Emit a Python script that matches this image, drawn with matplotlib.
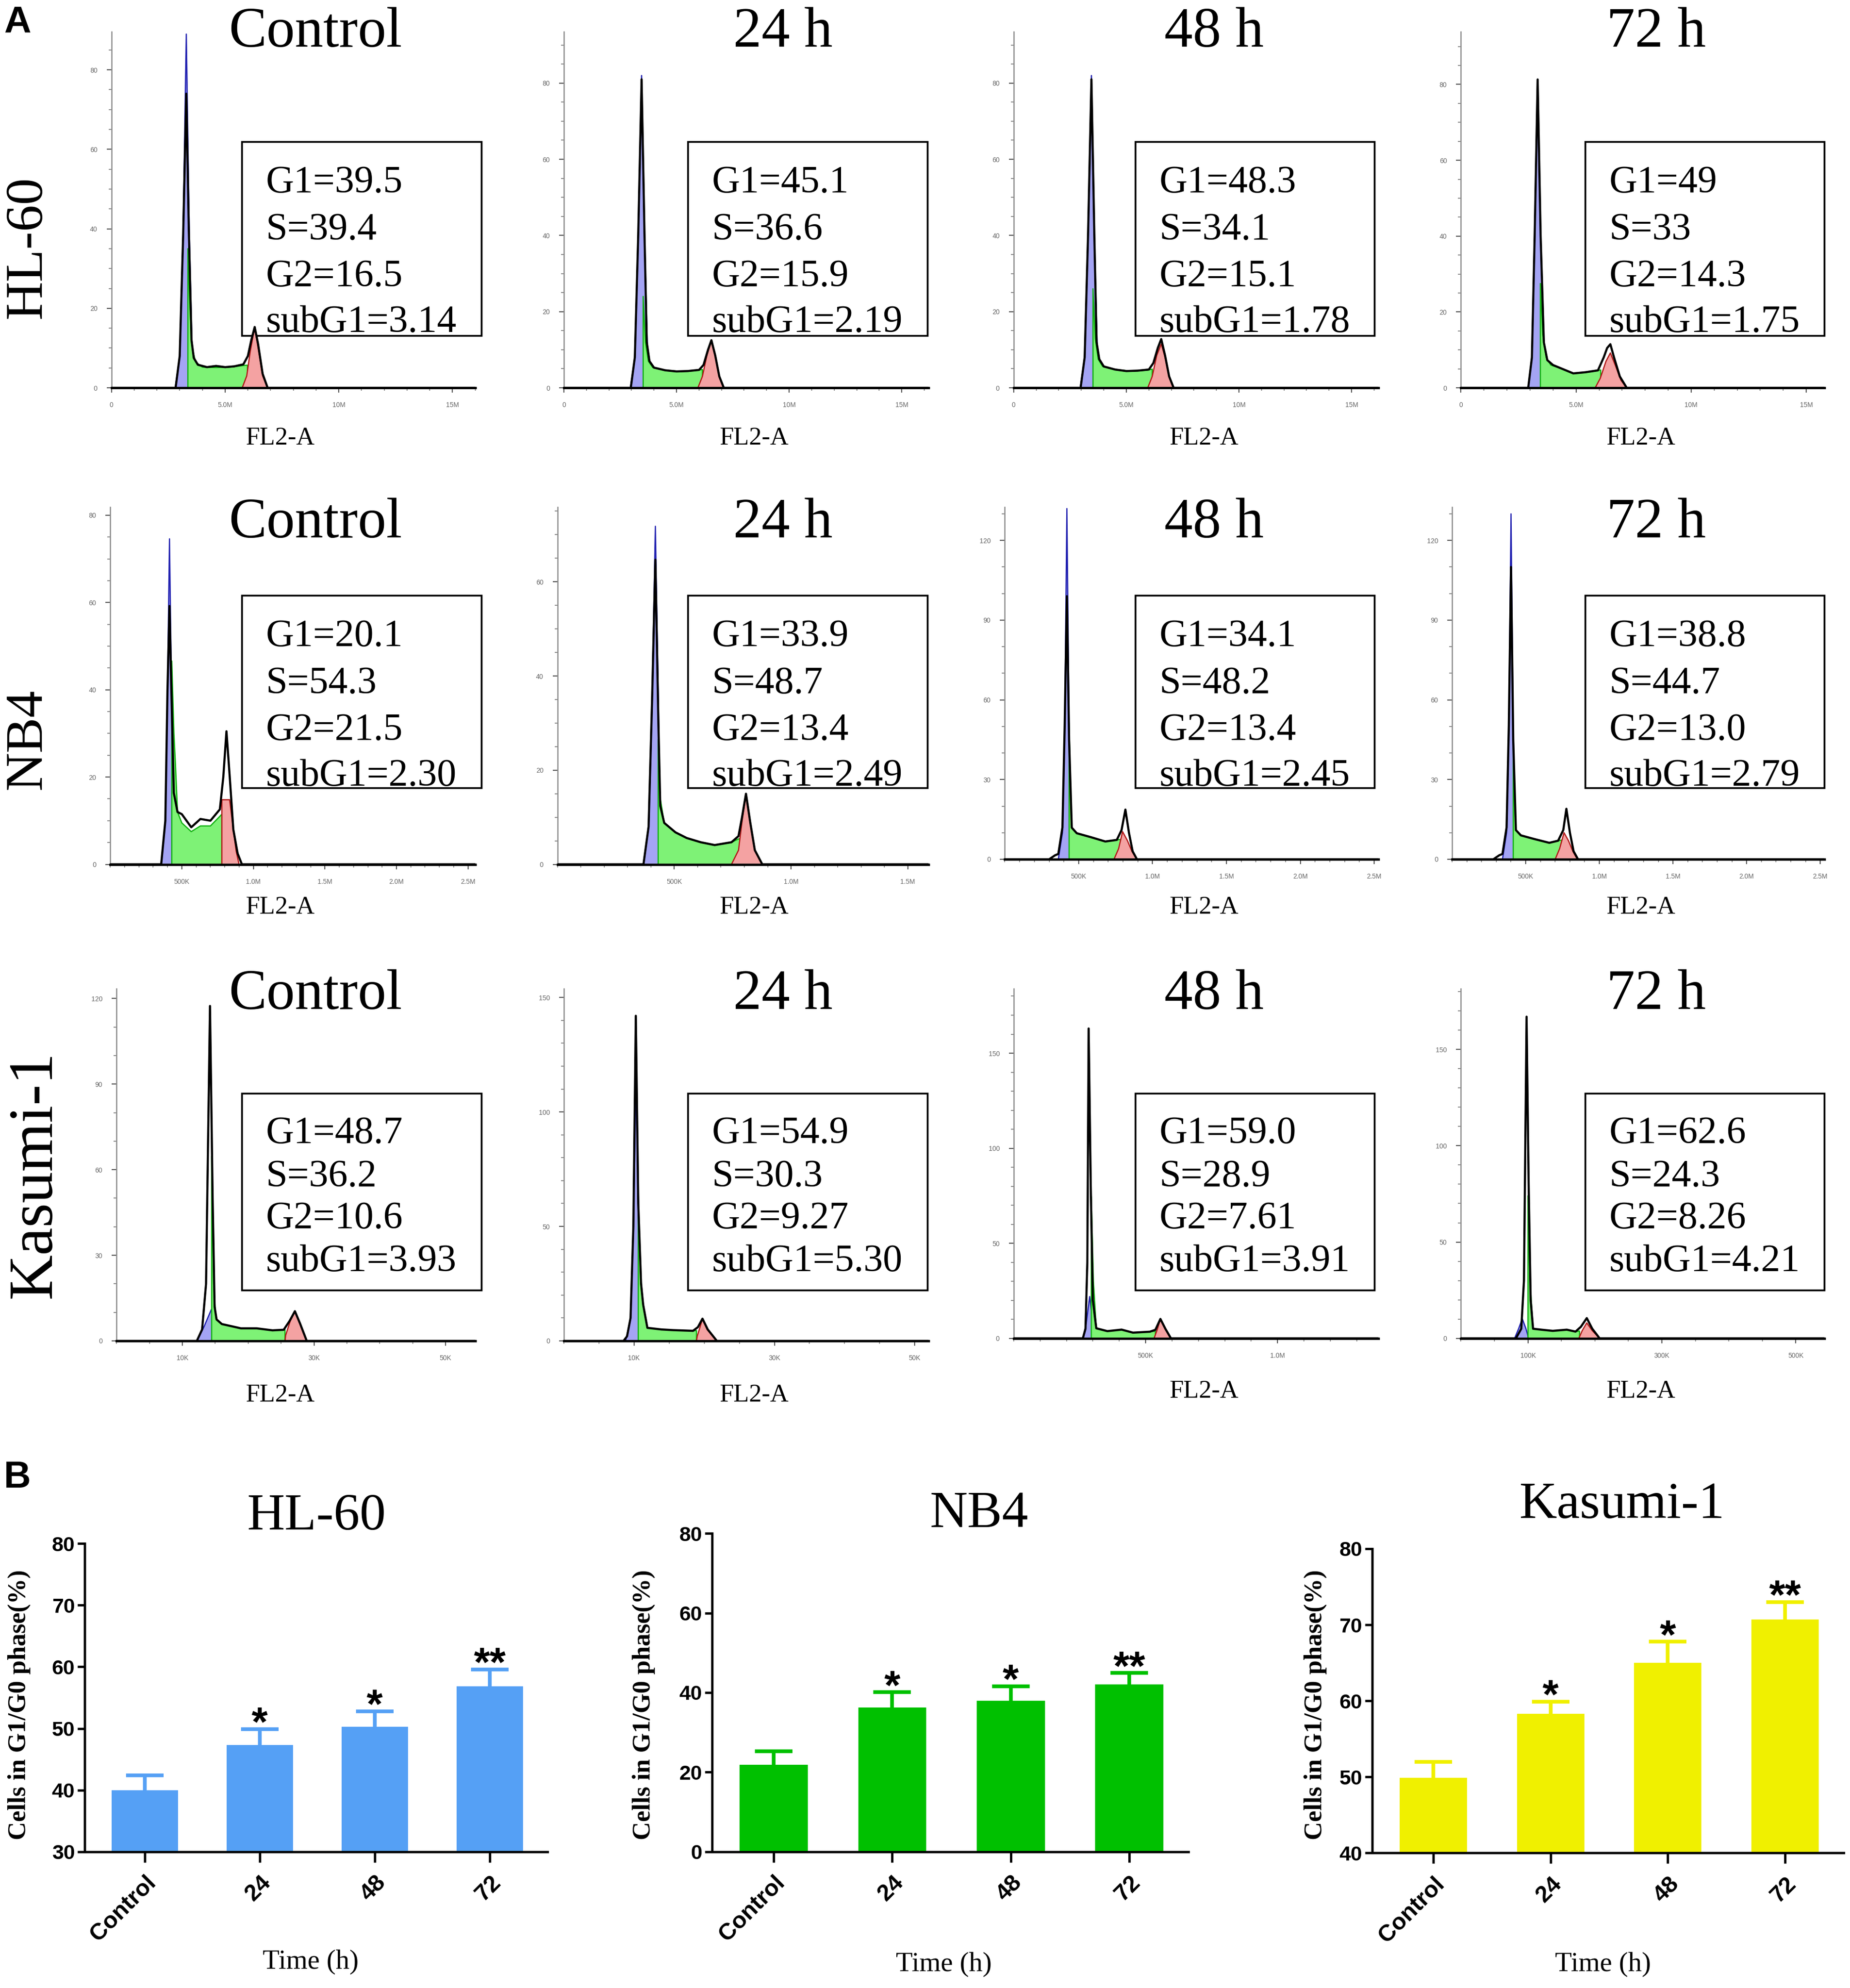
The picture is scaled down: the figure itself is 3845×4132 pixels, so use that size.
import matplotlib
matplotlib.use("Agg")
import matplotlib.pyplot as plt
import numpy as np
from matplotlib.patches import Rectangle
from matplotlib.ticker import MultipleLocator

SERIF = "Liberation Serif"
SANS = "Liberation Sans"

# ---------------- data: cell-cycle histograms (x in panel units, y = count) ----------------
CELL_LINES = ["HL-60", "NB4", "Kasumi-1"]
TIMES = ["Control", "24 h", "48 h", "72 h"]

# HL-60, x in millions
H60_C_G1 = [(2.80, 0), (3.00, 8), (3.15, 40), (3.29, 89), (3.42, 40), (3.55, 8), (3.70, 0)]
H60_C_S = [(3.36, 0), (3.36, 35), (3.45, 20), (3.55, 10), (3.70, 6.5), (4.0, 5.2), (4.6, 5.1), (5.2, 5.2), (5.8, 5.6), (5.98, 5.7), (5.98, 0)]
H60_C_G2 = [(5.75, 0), (5.95, 3), (6.10, 9), (6.30, 15.3), (6.45, 10), (6.65, 3), (6.87, 0)]
H60_C_DATA = [(0, 0), (2.82, 0), (3.00, 8), (3.15, 38), (3.29, 74), (3.40, 40), (3.52, 12), (3.62, 7.5), (3.8, 5.8), (4.2, 5.2),
              (4.6, 5.5), (5.0, 5.2), (5.4, 5.4), (5.8, 5.9), (6.0, 8), (6.15, 12), (6.30, 15.3), (6.45, 11), (6.65, 3.5), (6.87, 0), (16.0, 0)]

H60_24_G1 = [(2.95, 0), (3.15, 8), (3.30, 40), (3.45, 82), (3.58, 40), (3.72, 8), (3.88, 0)]
H60_24_S = [(3.52, 0), (3.52, 24), (3.62, 12), (3.75, 7), (3.95, 5.3), (4.5, 4.6), (5.2, 4.3), (5.9, 4.6), (6.15, 4.8), (6.15, 0)]
H60_24_G2 = [(5.95, 0), (6.15, 3), (6.35, 8.5), (6.55, 12.5), (6.72, 8.5), (6.90, 3), (7.10, 0)]
H60_24_DATA = [(0, 0), (2.97, 0), (3.15, 8), (3.30, 40), (3.45, 81), (3.58, 40), (3.68, 12), (3.8, 7), (4.0, 5.3), (4.5, 4.6),
               (5.0, 4.3), (5.5, 4.4), (6.0, 4.7), (6.2, 6), (6.4, 10), (6.55, 12.5), (6.72, 8.5), (6.9, 3), (7.1, 0), (16.2, 0)]

H60_48_G1 = [(2.95, 0), (3.15, 8), (3.30, 40), (3.45, 82), (3.58, 40), (3.72, 8), (3.88, 0)]
H60_48_S = [(3.52, 0), (3.52, 26), (3.62, 13), (3.75, 7.5), (3.95, 5.6), (4.5, 4.8), (5.2, 4.4), (5.9, 4.6), (6.15, 4.9), (6.15, 0)]
H60_48_G2 = [(5.95, 0), (6.15, 3), (6.35, 8.5), (6.55, 11.5), (6.72, 8), (6.90, 3), (7.10, 0)]
H60_48_DATA = [(0, 0), (2.97, 0), (3.15, 8), (3.30, 40), (3.45, 81), (3.58, 40), (3.68, 12), (3.8, 7.5), (4.0, 5.6), (4.5, 4.8),
               (5.0, 4.4), (5.5, 4.5), (6.0, 4.8), (6.2, 6.5), (6.4, 10.5), (6.55, 12.8), (6.72, 8.5), (6.9, 3), (7.1, 0), (16.2, 0)]

H60_72_G1 = [(2.92, 0), (3.08, 8), (3.20, 40), (3.33, 81), (3.46, 40), (3.60, 8), (3.81, 0)]
H60_72_S = [(3.45, 0), (3.45, 27.5), (3.55, 14), (3.70, 8), (3.90, 6), (4.4, 5), (4.9, 3.8), (5.5, 4.2), (5.95, 4.6), (6.07, 4.7), (6.07, 0)]
H60_72_G2 = [(5.83, 0), (6.05, 2.5), (6.30, 7), (6.49, 9.2), (6.70, 6), (6.95, 2), (7.20, 0)]
H60_72_DATA = [(0, 0), (2.92, 0), (3.08, 8), (3.20, 40), (3.33, 81.3), (3.46, 40), (3.60, 12), (3.75, 7.3), (4.0, 6), (4.4, 5),
               (4.88, 3.8), (5.4, 4.1), (5.95, 4.6), (6.2, 8), (6.35, 10.5), (6.49, 11.5), (6.65, 8), (6.9, 3), (7.2, 0), (15.8, 0)]

# NB4, x in millions
NB4_C_G1 = [(0.356, 0), (0.385, 10), (0.400, 40), (0.414, 74.6), (0.428, 40), (0.445, 10), (0.465, 0)]
NB4_C_S = [(0.43, 0), (0.43, 46.6), (0.445, 30), (0.456, 22.7), (0.47, 12), (0.50, 9.5), (0.566, 7.5), (0.63, 8.8), (0.70, 8.8), (0.766, 11), (0.78, 11.5), (0.78, 0)]
NB4_C_G2 = [(0.78, 0), (0.78, 14.8), (0.834, 14.8), (0.86, 8), (0.88, 3), (0.90, 0)]
NB4_C_DATA = [(0, 0), (0.356, 0), (0.385, 10), (0.400, 40), (0.414, 59.2), (0.426, 41.6), (0.444, 16.4), (0.47, 12), (0.50, 11.5),
              (0.566, 8.5), (0.60, 9.5), (0.63, 10.4), (0.70, 10), (0.766, 12.6), (0.79, 20), (0.812, 30.5), (0.835, 20), (0.86, 8),
              (0.89, 2.5), (0.92, 0), (2.55, 0)]

NB4_24_G1 = [(0.368, 0), (0.390, 8), (0.405, 35), (0.419, 71.8), (0.432, 35), (0.440, 8), (0.451, 0)]
NB4_24_S = [(0.431, 0), (0.431, 26.5), (0.44, 14), (0.457, 8.8), (0.505, 6.8), (0.553, 5.6), (0.613, 4.7), (0.673, 4.1), (0.745, 4.7), (0.78, 5.5), (0.78, 0)]
NB4_24_G2 = [(0.745, 0), (0.775, 3), (0.790, 9), (0.807, 15), (0.825, 9), (0.845, 3), (0.877, 0)]
NB4_24_DATA = [(0, 0), (0.368, 0), (0.390, 8), (0.405, 35), (0.419, 64.7), (0.432, 30), (0.44, 12.4), (0.457, 8.8), (0.505, 6.8),
               (0.553, 5.6), (0.613, 4.7), (0.673, 4.1), (0.745, 4.7), (0.775, 6), (0.79, 10), (0.807, 15), (0.825, 9), (0.845, 3),
               (0.877, 0), (1.59, 0)]

NB4_48_G1 = [(0.362, 0), (0.390, 10), (0.405, 50), (0.420, 132), (0.435, 50), (0.450, 10), (0.472, 0)]
NB4_48_S = [(0.435, 0), (0.435, 51.3), (0.445, 25), (0.453, 11.9), (0.487, 9.8), (0.584, 8.3), (0.68, 6.7), (0.758, 7.3), (0.787, 7.5), (0.787, 0)]
NB4_48_G2 = [(0.739, 0), (0.770, 4), (0.797, 10.4), (0.830, 7), (0.860, 3), (0.894, 0)]
NB4_48_DATA = [(0, 0), (0.30, 0), (0.34, 1.5), (0.362, 2), (0.39, 12), (0.405, 50), (0.42, 99), (0.435, 45), (0.453, 11.9),
               (0.487, 9.8), (0.584, 8.3), (0.68, 6.7), (0.758, 7.3), (0.79, 11), (0.816, 18.7), (0.84, 10), (0.865, 3), (0.894, 0), (2.53, 0)]

NB4_72_G1 = [(0.342, 0), (0.370, 10), (0.385, 50), (0.400, 130), (0.415, 50), (0.430, 10), (0.452, 0)]
NB4_72_S = [(0.415, 0), (0.415, 42), (0.425, 20), (0.433, 11), (0.467, 9), (0.56, 7.6), (0.66, 6.2), (0.72, 7), (0.75, 7.3), (0.75, 0)]
NB4_72_G2 = [(0.700, 0), (0.730, 4), (0.760, 10), (0.790, 7), (0.820, 3), (0.850, 0)]
NB4_72_DATA = [(0, 0), (0.28, 0), (0.32, 1.5), (0.342, 2), (0.37, 12), (0.385, 50), (0.40, 110), (0.415, 45), (0.433, 11),
               (0.467, 9), (0.56, 7.6), (0.66, 6.2), (0.72, 7), (0.755, 11), (0.776, 19), (0.80, 10), (0.825, 3), (0.855, 0), (2.53, 0)]

# Kasumi-1, x in thousands (48 h panel in millions)
KAS_C_G1 = [(12.2, 0), (13.3, 5), (14.4, 11), (15.2, 5), (15.9, 0)]
KAS_C_S = [(14.45, 0), (14.45, 64.7), (14.75, 20), (15.1, 7.9), (16.0, 5.9), (18.9, 4.4), (21.3, 4.4), (23.7, 3.7), (25.6, 3.9), (25.6, 0)]
KAS_C_G2 = [(25.6, 0), (25.7, 2), (26.4, 7), (27.1, 10.4), (27.9, 6), (28.9, 0)]
KAS_C_DATA = [(0, 0), (12.2, 0), (13.0, 4), (13.6, 20), (14.2, 117.4), (14.6, 50), (14.9, 12), (15.2, 7.5), (16.0, 5.9),
              (18.9, 4.4), (21.3, 4.4), (23.7, 3.7), (25.4, 3.9), (26.3, 7), (27.1, 10.4), (27.9, 6), (28.9, 0), (54.5, 0)]

KAS_24_G1 = [(8.8, 0), (9.5, 10), (9.9, 50), (10.3, 116), (10.7, 50), (11.1, 10), (11.6, 0)]
KAS_24_S = [(10.6, 0), (10.6, 60), (10.9, 30), (11.3, 15.8), (11.9, 5.7), (13.9, 5), (15.6, 4.7), (18.4, 4.4), (18.9, 4.5), (18.9, 0)]
KAS_24_G2 = [(18.9, 0), (19.0, 2), (19.4, 6), (19.75, 9.7), (20.4, 5), (21.8, 0)]
KAS_24_DATA = [(0, 0), (8.5, 0), (9.0, 2), (9.5, 10), (9.9, 50), (10.25, 142), (10.6, 60), (11.0, 25), (11.3, 15.8), (11.9, 5.7),
               (13.9, 5), (15.6, 4.7), (18.4, 4.4), (19.1, 6), (19.75, 9.7), (20.5, 5), (21.8, 0), (52.0, 0)]

KAS_48_G1 = [(0.262, 0), (0.275, 8), (0.288, 22), (0.300, 8), (0.310, 0)]
KAS_48_S = [(0.294, 0), (0.294, 74.6), (0.302, 30), (0.313, 5.3), (0.355, 3.8), (0.409, 4.6), (0.452, 3), (0.516, 3.5), (0.537, 3.8), (0.537, 0)]
KAS_48_G2 = [(0.532, 0), (0.545, 5), (0.556, 10.2), (0.575, 5), (0.596, 0)]
KAS_48_DATA = [(0, 0), (0.262, 0), (0.272, 5), (0.279, 40), (0.284, 163), (0.292, 80), (0.300, 20), (0.313, 5.3), (0.355, 3.8),
               (0.409, 4.6), (0.452, 3), (0.516, 3.5), (0.537, 4.5), (0.556, 10.2), (0.575, 5), (0.596, 0), (1.383, 0)]

KAS_72_G1 = [(80, 0), (86, 5), (91.5, 10.2), (97, 5), (101, 0)]
KAS_72_S = [(100, 0), (100, 74), (103, 30), (107.6, 5), (120, 4.5), (137, 3.9), (158, 4.5), (171, 3.5), (177, 3.8), (177, 0)]
KAS_72_G2 = [(176, 0), (181, 4), (187.8, 8), (196, 4), (207, 0)]
KAS_72_DATA = [(0, 0), (82, 0), (90, 5), (94, 30), (97.9, 167), (101, 80), (104, 20), (107.6, 5), (120, 4.5), (137, 3.9),
               (158, 4.5), (171, 3.5), (179, 6), (187.8, 10.5), (196, 5), (207, 0), (543, 0)]

# axis ranges and ticks of each histogram
HIST_XMAX = [[16.0, 16.2, 16.2, 15.8], [2.55, 1.59, 2.53, 2.53], [54.5, 52.0, 1.383, 543]]
HIST_YMAX = [[89.6, 93.5, 93.5, 93.9], [81.9, 75.9, 132.6, 132.6], [123.5, 153.9, 184, 181.6]]
HL60_XT = [0, 5, 10, 15]
HL60_XL = ["0", "5.0M", "10M", "15M"]
NB4_XT = [0.5, 1.0, 1.5, 2.0, 2.5]
NB4_XL = ["500K", "1.0M", "1.5M", "2.0M", "2.5M"]
NB4_24_XT = [0.5, 1.0, 1.5]
NB4_24_XL = ["500K", "1.0M", "1.5M"]
KAS_XT = [10, 30, 50]
KAS_XL = ["10K", "30K", "50K"]
KAS_48_XT = [0.5, 1.0]
KAS_48_XL = ["500K", "1.0M"]
KAS_72_XT = [100, 300, 500]
KAS_72_XL = ["100K", "300K", "500K"]
Y_20 = [0, 20, 40, 60, 80]
Y_20S = [0, 20, 40, 60]
Y_30 = [0, 30, 60, 90, 120]
Y_50 = [0, 50, 100, 150]

# phase percentages in the boxes
HL60_G1 = ["39.5", "45.1", "48.3", "49"]
HL60_S = ["39.4", "36.6", "34.1", "33"]
HL60_G2 = ["16.5", "15.9", "15.1", "14.3"]
HL60_SUB = ["3.14", "2.19", "1.78", "1.75"]
NB4_G1 = ["20.1", "33.9", "34.1", "38.8"]
NB4_S = ["54.3", "48.7", "48.2", "44.7"]
NB4_G2 = ["21.5", "13.4", "13.4", "13.0"]
NB4_SUB = ["2.30", "2.49", "2.45", "2.79"]
KAS_G1 = ["48.7", "54.9", "59.0", "62.6"]
KAS_S = ["36.2", "30.3", "28.9", "24.3"]
KAS_G2 = ["10.6", "9.27", "7.61", "8.26"]
KAS_SUB = ["3.93", "5.30", "3.91", "4.21"]

# ---------------- data: G1/G0 bar charts ----------------
GROUPS = ["Control", "24", "48", "72"]
SIGNIF = ["", "*", "*", "**"]
HL60_MEAN = [40.0, 47.3, 50.3, 56.8]
HL60_ERR = [2.4, 2.6, 2.5, 2.8]
NB4_MEAN = [21.9, 36.2, 37.9, 42.1]
NB4_ERR = [3.3, 3.9, 3.7, 2.8]
KAS_MEAN = [49.9, 58.3, 65.0, 70.7]
KAS_ERR = [2.1, 1.6, 2.8, 2.3]

# ---------------- layout (reference pixels / 2.634) ----------------
W, H = 1460.0, 1568.6


def rect(l, r, b, t):
    return [l / W, 1 - b / H, (r - l) / W, (b - t) / H]


def fx(x):
    return x / W


def fy(y):
    return 1 - y / H


BLUE_FILL, BLUE_LINE = "#a4a4f4", "#2020b0"
GREEN_FILL, GREEN_LINE = "#7ef276", "#10b010"
RED_FILL, RED_LINE = "#f4a2a2", "#b01818"

ROW_TOP = [25, 400, 780]
ROW_BASE = [[306, 306, 306, 306], [682, 682, 678, 678], [1058, 1058, 1056, 1056]]
COL_L = [[88, 445, 800, 1153], [87, 440, 793, 1146], [92, 445, 800, 1153]]
COL_R = [375, 733, 1088, 1440]
TITLE_X = [249, 618, 958, 1307]
TITLE_BASE = [37, 424, 796]
BOX_X = [191, 543, 896, 1251]
BOX_Y = [(112, 265), (470, 622), (863, 1018)]
TEXT_X = [210, 562, 915, 1270]
TEXT_BASE = [[152, 189, 226, 262], [510, 547, 584, 620], [902, 936, 969, 1003]]
FL2_X = [221, 595, 950, 1295]
FL2_Y = [[346] * 4, [716] * 4, [1101, 1101, 1098, 1098]]
ROW_LABEL_XY = [(22, 195), (22, 583), (28, 927)]
ROW_LABEL_SIZE = [80, 80, 94]

fig = plt.figure(figsize=(38.45, 41.32), dpi=100)

panels = [
    [(H60_C_G1, H60_C_S, H60_C_G2, H60_C_DATA), (H60_24_G1, H60_24_S, H60_24_G2, H60_24_DATA),
     (H60_48_G1, H60_48_S, H60_48_G2, H60_48_DATA), (H60_72_G1, H60_72_S, H60_72_G2, H60_72_DATA)],
    [(NB4_C_G1, NB4_C_S, NB4_C_G2, NB4_C_DATA), (NB4_24_G1, NB4_24_S, NB4_24_G2, NB4_24_DATA),
     (NB4_48_G1, NB4_48_S, NB4_48_G2, NB4_48_DATA), (NB4_72_G1, NB4_72_S, NB4_72_G2, NB4_72_DATA)],
    [(KAS_C_G1, KAS_C_S, KAS_C_G2, KAS_C_DATA), (KAS_24_G1, KAS_24_S, KAS_24_G2, KAS_24_DATA),
     (KAS_48_G1, KAS_48_S, KAS_48_G2, KAS_48_DATA), (KAS_72_G1, KAS_72_S, KAS_72_G2, KAS_72_DATA)],
]
xticks = [[(HL60_XT, HL60_XL, 1)] * 4,
          [(NB4_XT, NB4_XL, 0.1), (NB4_24_XT, NB4_24_XL, 0.1), (NB4_XT, NB4_XL, 0.1), (NB4_XT, NB4_XL, 0.1)],
          [(KAS_XT, KAS_XL, 5), (KAS_XT, KAS_XL, 5), (KAS_48_XT, KAS_48_XL, 0.1), (KAS_72_XT, KAS_72_XL, 50)]]
yticks = [[(Y_20, 5)] * 4,
          [(Y_20, 5), (Y_20S, 5), (Y_30, 10), (Y_30, 10)],
          [(Y_30, 10), (Y_50, 10), (Y_50, 10), (Y_50, 10)]]
box_vals = [(HL60_G1, HL60_S, HL60_G2, HL60_SUB), (NB4_G1, NB4_S, NB4_G2, NB4_SUB), (KAS_G1, KAS_S, KAS_G2, KAS_SUB)]

for r in range(3):
    for c in range(4):
        g1, s, g2, data = panels[r][c]
        ax = fig.add_axes(rect(COL_L[r][c], COL_R[c], ROW_BASE[r][c], ROW_TOP[r]))
        ax.patch.set_visible(False)
        for poly, fc, ec, z in [(g1, BLUE_FILL, BLUE_LINE, 2), (s, GREEN_FILL, GREEN_LINE, 2.2), (g2, RED_FILL, RED_LINE, 2.4)]:
            px, py = zip(*poly)
            ax.fill(px, py, color=fc, lw=0, zorder=z)
            ax.plot(px, py, color=ec, lw=1.8, zorder=z + 0.05)
        dx, dy = zip(*data)
        ax.plot(dx, dy, color="black", lw=3.2, zorder=4, solid_joinstyle="round")
        ax.set_xlim(0, HIST_XMAX[r][c])
        ax.set_ylim(0, HIST_YMAX[r][c])
        for sp in ["top", "right"]:
            ax.spines[sp].set_visible(False)
        ax.spines["left"].set_color("#8a8a8a")
        ax.spines["left"].set_linewidth(1.8)
        ax.spines["bottom"].set_color("black")
        ax.spines["bottom"].set_linewidth(3.5)
        xt, xl, xm = xticks[r][c]
        ax.set_xticks(xt)
        ax.set_xticklabels(xl)
        ax.xaxis.set_minor_locator(MultipleLocator(xm))
        yt, ym = yticks[r][c]
        ax.set_yticks(yt)
        ax.yaxis.set_minor_locator(MultipleLocator(ym))
        ax.tick_params(which="major", length=7, width=1.6, color="#555555", labelsize=10,
                       labelcolor="#666666", pad=14)
        ax.tick_params(which="minor", length=4, width=1.2, color="#777777")
        for lab in ax.get_xticklabels() + ax.get_yticklabels():
            lab.set_fontfamily(SANS)

        # result box
        by0, by1 = BOX_Y[r]
        fig.add_artist(Rectangle((fx(BOX_X[c]), fy(by1)), 189 / W, (by1 - by0) / H, transform=fig.transFigure,
                                 fill=False, edgecolor="black", lw=2.6, zorder=-1))
        vals = box_vals[r]
        lines = ["G1=" + vals[0][c], "S=" + vals[1][c], "G2=" + vals[2][c], "subG1=" + vals[3][c]]
        for txt, ty in zip(lines, TEXT_BASE[r]):
            fig.text(fx(TEXT_X[c]), fy(ty), txt, family=SERIF, fontsize=58, ha="left", va="baseline")

        fig.text(fx(TITLE_X[c]), fy(TITLE_BASE[r]), TIMES[c], family=SERIF, fontsize=85, ha="center", va="baseline")
        fig.text(fx(FL2_X[c]), fy(FL2_Y[r][c]), "FL2-A", family=SERIF, fontsize=38, ha="center", va="center")

    lx, ly = ROW_LABEL_XY[r]
    fig.text(fx(lx), fy(ly), CELL_LINES[r], family=SERIF, fontsize=ROW_LABEL_SIZE[r], rotation=90,
             ha="center", va="center")

fig.text(fx(3), fy(18), "A", family=SANS, fontweight="bold", fontsize=56, ha="left", va="center")
fig.text(fx(3), fy(1166), "B", family=SANS, fontweight="bold", fontsize=56, ha="left", va="center")

# ---------------- bar charts ----------------
BAR_RECTS = [(67, 432, 1461, 1218), (562, 938, 1461, 1210), (1083, 1455, 1462, 1222)]
BAR_TITLE_XY = [(250, 1197), (773, 1195), (1280, 1188)]
YLABEL_X = [15, 508, 1038]
TIME_XY = [(245, 1548), (745, 1550), (1265, 1550)]
bar_sets = [(HL60_MEAN, HL60_ERR, "#55a0f5", (30, 80), [30, 40, 50, 60, 70, 80]),
            (NB4_MEAN, NB4_ERR, "#00c000", (0, 80), [0, 20, 40, 60, 80]),
            (KAS_MEAN, KAS_ERR, "#f0f000", (40, 80), [40, 50, 60, 70, 80])]

for i, (means, errs, color, ylim, yt) in enumerate(bar_sets):
    l, r_, b, t = BAR_RECTS[i]
    ax = fig.add_axes(rect(l, r_, b, t))
    x = np.arange(len(GROUPS))
    ax.bar(x, means, width=0.575, color=color, zorder=2)
    _, caps, _ = ax.errorbar(x, means, yerr=[np.zeros(len(errs)), errs], fmt="none", ecolor=color,
                             elinewidth=5.5, capsize=28, capthick=5.5, zorder=1)
    # only the upper cap is drawn in the reference
    for cap in caps:
        if np.allclose(cap.get_ydata(), means):
            cap.set_visible(False)
    ax.set_xlim(-0.52, 3.5)
    ax.set_ylim(*ylim)
    for sp in ["top", "right"]:
        ax.spines[sp].set_visible(False)
    for sp in ["left", "bottom"]:
        ax.spines[sp].set_linewidth(3.5)
    ax.set_yticks(yt)
    ax.set_xticks(x)
    ax.set_xticklabels(GROUPS, rotation=45, ha="right", rotation_mode="anchor")
    ax.tick_params(axis="y", length=11, width=3.5, labelsize=31, pad=4)
    ax.tick_params(axis="x", length=16, width=3.5, labelsize=35, pad=14)
    for lab in ax.get_xticklabels() + ax.get_yticklabels():
        lab.set_fontfamily(SANS)
        lab.set_fontweight("bold")
    for xi, m, e, sig in zip(x, means, errs, SIGNIF):
        if sig:
            ax.annotate(sig, (xi, m + e), xytext=(0, -10), textcoords="offset points", ha="center",
                        va="baseline", fontsize=62, fontweight="bold", family=SANS)
    tx, ty = BAR_TITLE_XY[i]
    fig.text(fx(tx), fy(ty), CELL_LINES[i], family=SERIF, fontsize=78, ha="center", va="center")
    fig.text(fx(YLABEL_X[i]), fy(1345), "Cells in G1/G0 phase(%)", family=SERIF, fontweight="bold",
             fontsize=38, rotation=90, ha="center", va="center")
    mx, my = TIME_XY[i]
    fig.text(fx(mx), fy(my), "Time (h)", family=SERIF, fontsize=41, ha="center", va="center")

fig.savefig("out.png", dpi=100)
